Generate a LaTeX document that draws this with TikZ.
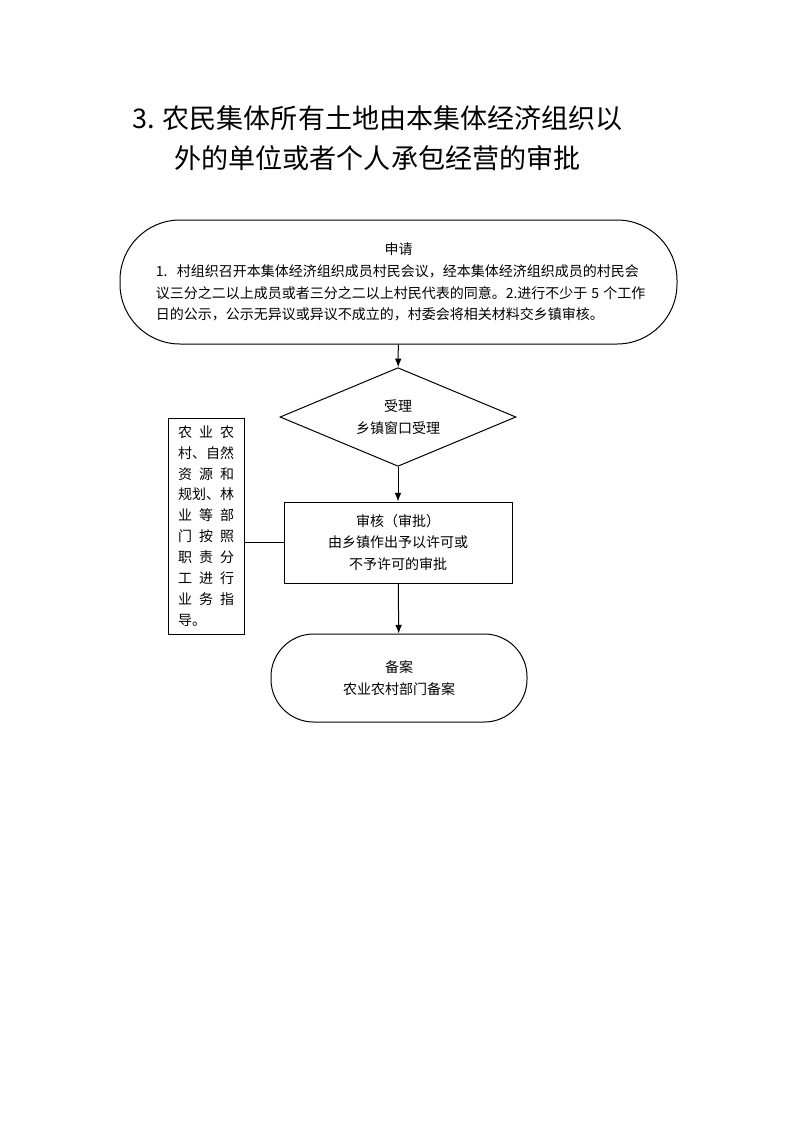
\documentclass[tikz,border=0pt]{standalone}
\usepackage{fontspec}
\setmainfont{Noto Sans CJK SC}
\usetikzlibrary{shapes.geometric,arrows.meta}
\XeTeXlinebreaklocale "zh"
\XeTeXlinebreakskip=0pt plus 2pt

\newcommand{\spreadline}[2]{\hbox to #1{#2}}

\begin{document}
\begin{tikzpicture}[x=0.75pt,y=-0.75pt]
\tikzstyle{every node}=[font=\fontsize{10.5}{16.3}\selectfont,
                        inner sep=0pt, line width=0.75pt]
\tikzstyle{terminal}=[draw, rectangle, align=center]
\tikzstyle{decision}=[draw, diamond, aspect=2.39, align=center,
                      minimum width=177pt, minimum height=74pt]
\tikzstyle{process}=[draw, rectangle, align=center,
                     minimum width=171pt, minimum height=60.75pt]
\tikzstyle{arrow}=[line width=0.75pt, -{Latex[length=6.5pt,width=5pt]}]
\useasboundingbox (0,0) rectangle (793,1122);

\node[font=\fontsize{20.3}{30}\selectfont, align=center] (title) at (377.5,138)
  {3. 农民集体所有土地由本集体经济组织以\\外的单位或者个人承包经营的审批};

\node[terminal, minimum width=417.75pt, minimum height=93pt,
      rounded corners=45pt] (apply) at (398.5,282)
  {申请\\
   \spreadline{364pt}{1.\hspace{7pt}村组织召开本集体经济组织成员村民会议，经本集体经济组织成员的村民会}\\
   \spreadline{364pt}{议三分之二以上成员或者三分之二以上村民代表的同意。2.进行不少于\hspace{3pt}5\hspace{3pt}个工作}\\
   \spreadline{364pt}{日的公示，公示无异议或异议不成立的，村委会将相关材料交乡镇审核。\hfil}};
\node[decision] (accept) at (398,417) {受理\\乡镇窗口受理};
\node[process] (review) at (398,542.5)
  {审核（审批）\\由乡镇作出予以许可或\\不予许可的审批};
\node[terminal, minimum width=192pt, minimum height=66pt,
      rounded corners=32pt] (record) at (399,678) {备案\\农业农村部门备案};
\node[draw, rectangle, minimum width=57pt, minimum height=162pt,
      font=\fontsize{10.5}{15.7}\selectfont, align=left] (guide) at (206,526)
  {\spreadline{42pt}{农\hfil 业\hfil 农}\\ \spreadline{42pt}{村、自然}\\
   \spreadline{42pt}{资\hfil 源\hfil 和}\\ \spreadline{42pt}{规划、林}\\
   \spreadline{42pt}{业\hfil 等\hfil 部}\\ \spreadline{42pt}{门\hfil 按\hfil 照}\\
   \spreadline{42pt}{职\hfil 责\hfil 分}\\ \spreadline{42pt}{工\hfil 进\hfil 行}\\
   \spreadline{42pt}{业\hfil 务\hfil 指}\\ \spreadline{42pt}{导。\hfil}};

\draw[arrow] (apply) -- (accept);
\draw[arrow] (accept) -- (review);
\draw[arrow] (review) -- (record);
\draw[line width=0.75pt] (review.west) -- (review.west -| guide.east);
\end{tikzpicture}
\end{document}
